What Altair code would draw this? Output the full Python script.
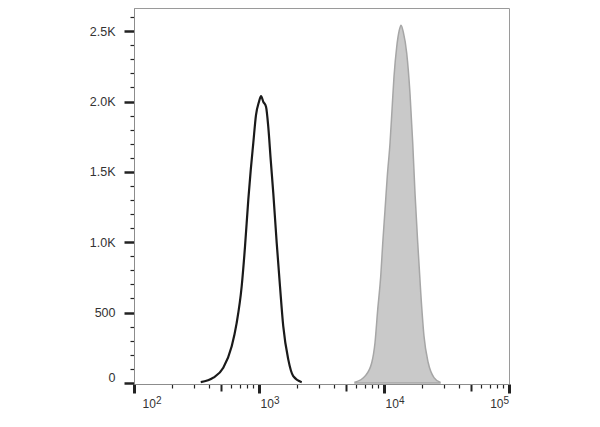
import altair as alt
import pandas as pd

# Unstained / isotype (black outline) histogram
black_x = [342, 431, 518, 605, 663, 727, 773, 821, 859, 900, 946, 1000,
           1038, 1082, 1138, 1186, 1241, 1301, 1386, 1472, 1563, 1714, 1879, 2198]
black_y = [5, 37, 108, 261, 427, 687, 970, 1301, 1514, 1704, 1904, 1999,
           2039, 1999, 1963, 1821, 1585, 1349, 994, 687, 403, 167, 48, 5]

# Stained (gray filled) histogram
gray_x = [5861, 7047, 7977, 8472, 8906, 9414, 9772, 10190, 10620, 11170, 11590,
          12020, 12640, 13250, 13680, 14260, 15200, 16140, 16980, 17700, 18620,
          19680, 20890, 22590, 25120, 28050]
gray_y = [5, 48, 143, 285, 521, 757, 994, 1230, 1467, 1704, 1940, 2176, 2389,
          2507, 2543, 2495, 2342, 2058, 1704, 1349, 994, 640, 332, 143, 37, 5]

y_tick_values = list(range(0, 2700, 100))
x_tick_values = [m * 10 ** k for k in (2, 3, 4) for m in range(1, 10)] + [100000]
x_decades = [100, 1000, 10000, 100000]

black_df = pd.DataFrame({"x": black_x, "y": black_y})
gray_df = pd.DataFrame({"x": gray_x, "y": gray_y})

xscale = alt.Scale(type="log", domain=[100, 100000], nice=False)
yscale = alt.Scale(domain=[-8, 2665], nice=False, zero=False)

is_major = "abs(log(datum.value)/LN10 - round(log(datum.value)/LN10)) < 0.001"
is_five = "abs(datum.value / pow(10, floor(log(datum.value)/LN10 + 0.001)) - 5) < 0.01"

# main x axis: ticks + "10" part of labels
x_axis = alt.Axis(
    orient="bottom",
    values=x_tick_values, title=None, grid=False,
    domainColor="#8c8c8c", domainWidth=1,
    tickColor="#222222",
    tickSize={"expr": f"{is_major} ? 9 : ({is_five} ? 7 : 4)"},
    tickWidth={"expr": f"{is_major} ? 3 : ({is_five} ? 2 : 1.2)"},
    labelExpr=f"{is_major} ? '10' : ''",
    labelOverlap=False,
    labelFont="Liberation Sans", labelFontSize=12, labelColor="#333333",
    labelAlign={"expr": "datum.value >= 99999 ? 'right' : 'left'"},
    labelOffset={"expr": "datum.value <= 101 ? 8 : (datum.value >= 99999 ? -6 : 1)"},
    labelBaseline="alphabetic", labelPadding=14,
)

# overlay axis: the superscript exponents
x_exp_axis = alt.Axis(
    orient="bottom",
    values=x_decades, title=None, grid=False, domain=False, ticks=False, tickSize=0,
    labelExpr="format(round(log(datum.value)/LN10), 'd')",
    labelOverlap=False,
    labelFont="Liberation Sans", labelFontSize=10, labelColor="#333333",
    labelAlign="left",
    labelOffset={"expr": "datum.value <= 101 ? 21.5 : (datum.value >= 99999 ? -6 : 14.5)"},
    labelBaseline="alphabetic", labelPadding=19.5,
)

y_axis = alt.Axis(
    values=y_tick_values, title=None, grid=False,
    domainColor="#8c8c8c", domainWidth=1,
    tickColor="#222222",
    tickSize={"expr": "datum.value % 500 == 0 ? 10 : 4"},
    tickWidth={"expr": "datum.value % 500 == 0 ? 2.5 : 1.2"},
    labelExpr="datum.value % 500 != 0 ? '' : (datum.value == 0 ? '0' : (datum.value < 1000 ? '500' : format(datum.value / 1000, '.1f') + 'K'))",
    labelOverlap=False,
    labelFont="Liberation Sans", labelFontSize=12.5, labelColor="#333333",
    labelPadding=9,
    labelOffset={"expr": "datum.value == 0 ? -5 : 0"},
)

gray = alt.Chart(gray_df).mark_area(
    interpolate="monotone", fill="#c9c9c9", stroke="#a6a6a6", strokeWidth=1.5, clip=True
).encode(
    x=alt.X("x:Q", scale=xscale, axis=x_axis),
    y=alt.Y("y:Q", scale=yscale, axis=y_axis),
    y2=alt.datum(0),
)

black = alt.Chart(black_df).mark_line(
    interpolate="monotone", color="#1a1a1a", strokeWidth=2.2, clip=True
).encode(
    x=alt.X("x:Q", scale=xscale, axis=x_exp_axis),
    y=alt.Y("y:Q", scale=yscale, axis=y_axis),
)

chart = alt.layer(gray, black).resolve_axis(x="independent").properties(
    width=375, height=376,
    autosize=alt.AutoSizeParams(type="none"),
    padding={"left": 126, "top": 0, "right": 70, "bottom": 35},
    background="white",
).configure_view(stroke="#9a9a9a", strokeWidth=1)

chart.save("out.html", embed_options={"renderer": "svg", "actions": False})
